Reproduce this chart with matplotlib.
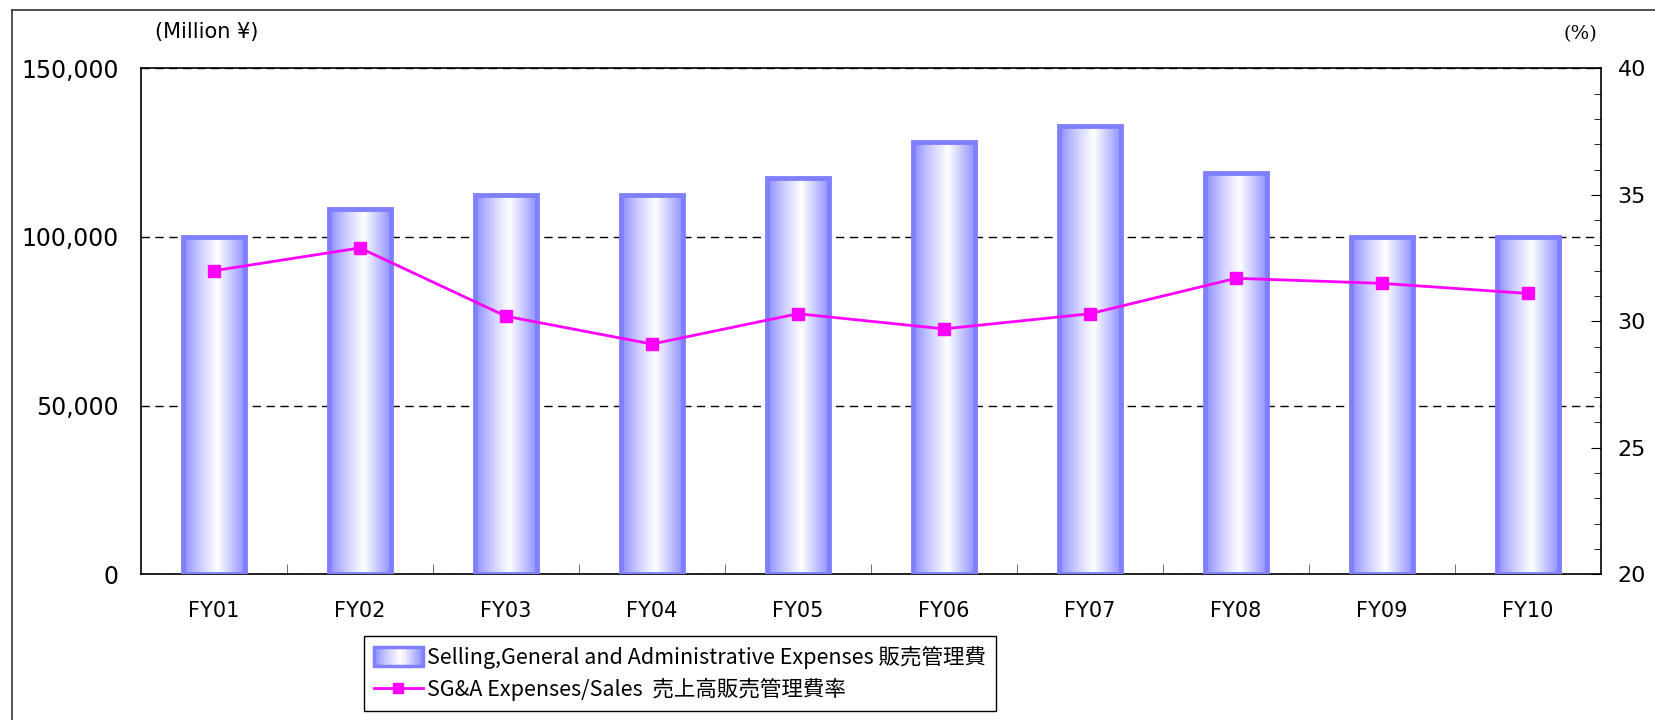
import matplotlib
matplotlib.use("Agg")
import matplotlib.pyplot as plt
import numpy as np
from matplotlib.colors import LinearSegmentedColormap
from matplotlib.legend_handler import HandlerBase
from matplotlib.lines import Line2D
from matplotlib.patches import Rectangle
from matplotlib.ticker import MultipleLocator, FuncFormatter

years = ["FY01", "FY02", "FY03", "FY04", "FY05", "FY06", "FY07", "FY08", "FY09", "FY10"]
sga = [99900, 108300, 112500, 112500, 117600, 128300, 132800, 119000, 99900, 99900]
ratio = [32.0, 32.9, 30.2, 29.1, 30.3, 29.7, 30.3, 31.7, 31.5, 31.1]

bar_label = "Selling,General and Administrative Expenses 販売管理費"
line_label = "SG&A Expenses/Sales  売上高販売管理費率"

EDGE = "#8080FF"
LINE = "#FF00FF"
grad = LinearSegmentedColormap.from_list(
    "barfill", [(0.0, "#8C8CFF"), (0.25, "#C8C8FF"), (0.55, "#FFFFFF"), (0.8, "#C0C0FF"), (1.0, "#8C8CFF")]
)

LEGEND_FONT = ["Noto Sans CJK JP", "DejaVu Sans"]


class GradientHandler(HandlerBase):
    def create_artists(self, legend, orig_handle, xdescent, ydescent, width, height, fontsize, trans):
        n = 24
        arts = []
        for k in range(n):
            arts.append(Rectangle((-xdescent + width * k / n, -ydescent), width / n, height,
                                  facecolor=grad((k + 0.5) / n), edgecolor="none", transform=trans))
        arts.append(Rectangle((-xdescent, -ydescent), width, height, facecolor="none",
                              edgecolor=EDGE, lw=2.5, transform=trans))
        return arts


fig = plt.figure(figsize=(16.56, 7.2), dpi=100)
ax = fig.add_axes([0.0851, 0.2024, 0.9668 - 0.0851, 0.9051 - 0.2024])
ax2 = ax.twinx()
ax.set_zorder(1)
ax2.set_zorder(2)
ax2.patch.set_visible(False)

x = np.arange(len(years))
bars = ax.bar(x, sga, width=0.43, facecolor="none", edgecolor=EDGE, linewidth=3.5, zorder=3)
g = np.linspace(0, 1, 256).reshape(1, -1)
for b in bars:
    x0, y0, w, h = b.get_x(), b.get_y(), b.get_width(), b.get_height()
    im = ax.imshow(g, cmap=grad, extent=[x0, x0 + w, y0, y0 + h], aspect="auto", zorder=2,
                   interpolation="bilinear")
    im.set_clip_path(b)

ax.set_xlim(-0.5, len(years) - 0.5)
ax.set_ylim(0, 150000)
ax.set_yticks([0, 50000, 100000, 150000])
ax.yaxis.set_major_formatter(FuncFormatter(lambda v, p: f"{int(v):,}"))
ax.tick_params(axis="y", length=0, pad=16, labelsize=17)
ax.set_xticks(x)
ax.set_xticklabels(years)
ax.set_xticks(np.arange(0.5, len(years) - 1, 1.0), minor=True)
ax.tick_params(axis="x", which="major", length=0, pad=19, labelsize=15)
ax.tick_params(axis="x", which="minor", direction="in", length=7, color="#555555")
ax.set_axisbelow(True)
ax.yaxis.grid(True, linestyle=(0, (6, 4)), color="black", linewidth=1)
for s in ax.spines.values():
    s.set_linewidth(1.2)

ax2.plot(x, ratio, color=LINE, linewidth=2, marker="s", markersize=8, label=line_label)
ax2.set_ylim(20, 40)
ax2.yaxis.set_major_locator(MultipleLocator(5))
ax2.yaxis.set_minor_locator(MultipleLocator(1))
ax2.tick_params(axis="y", which="major", direction="in", length=7, pad=12, labelsize=16)
ax2.tick_params(axis="y", which="minor", direction="in", length=5)
for s in ax2.spines.values():
    s.set_visible(False)

fig.text(155 / 1656, 1 - 32 / 720, "(Million ¥)", fontsize=15, ha="left", va="center")
fig.text(1580 / 1656, 1 - 34 / 720, "(%)", fontsize=14, ha="center", va="center", family="DejaVu Serif")

# outer frame (left and top edges only show in the crop)
fig.add_artist(Line2D([12 / 1656, 12 / 1656], [0, 1 - 10 / 720], transform=fig.transFigure, color="#333333", lw=1.2))
fig.add_artist(Line2D([12 / 1656, 1], [1 - 10 / 720, 1 - 10 / 720], transform=fig.transFigure, color="#333333", lw=1.2))

line_handle = Line2D([], [], color=LINE, linewidth=2, marker="s", markersize=7)
leg = fig.legend([bars, line_handle], [bar_label, line_label],
                 handler_map={bars: GradientHandler()},
                 loc="lower center", bbox_to_anchor=(680 / 1656, 9 / 720), borderaxespad=0,
                 frameon=True, fancybox=False, edgecolor="black", framealpha=1,
                 prop={"family": LEGEND_FONT, "size": 15.5},
                 handlelength=2.3, handleheight=1.0, handletextpad=0.2, labelspacing=0.45,
                 borderpad=0.45)
leg.get_frame().set_linewidth(1.0)

fig.savefig("out.png", dpi=100)
